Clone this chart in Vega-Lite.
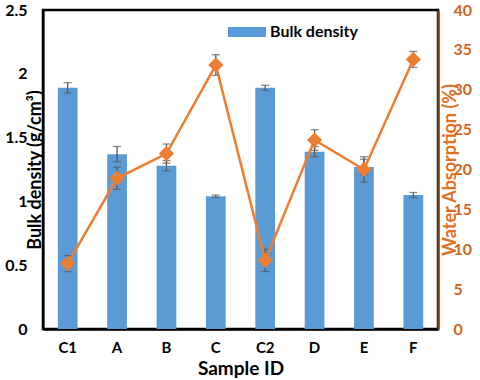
{
  "$schema": "https://vega.github.io/schema/vega-lite/v6.json",
  "width": 395,
  "height": 319,
  "autosize": {"type": "none"},
  "padding": {"left": 43, "top": 10, "right": 42, "bottom": 51},
  "background": "white",
  "config": {
    "font": "Lato",
    "view": {"stroke": "black", "strokeWidth": 2.5},
    "axis": {"grid": false, "ticks": false, "labelFont": "Lato", "titleFont": "Lato", "labelFontWeight": "bold", "titleFontWeight": "bold"}
  },
  "data": {
    "values": [
      {"id": "C1", "bd": 1.89, "bdErr": 0.04, "wa": 8.2, "waErr": 1.0},
      {"id": "A", "bd": 1.37, "bdErr": 0.06, "wa": 18.9, "waErr": 1.4},
      {"id": "B", "bd": 1.28, "bdErr": 0.04, "wa": 22.0, "waErr": 1.2},
      {"id": "C", "bd": 1.04, "bdErr": 0.01, "wa": 33.1, "waErr": 1.3},
      {"id": "C2", "bd": 1.89, "bdErr": 0.02, "wa": 8.6, "waErr": 1.4},
      {"id": "D", "bd": 1.39, "bdErr": 0.04, "wa": 23.7, "waErr": 1.3},
      {"id": "E", "bd": 1.27, "bdErr": 0.06, "wa": 20.0, "waErr": 1.6},
      {"id": "F", "bd": 1.05, "bdErr": 0.02, "wa": 33.8, "waErr": 1.0}
    ]
  },
  "encoding": {
    "x": {
      "field": "id", "type": "nominal", "sort": null,
      "scale": {"paddingInner": 0.6, "paddingOuter": 0.3},
      "axis": {"labelAngle": 0, "labelFontSize": 15, "labelColor": "black", "labelPadding": 11, "title": "Sample ID", "titleFontSize": 19, "titleColor": "black", "titlePadding": 4, "domainColor": "black", "domainWidth": 2.5}
    }
  },
  "layer": [
    {
      "encoding": {
        "y": {
          "field": "bd", "type": "quantitative",
          "scale": {"domain": [0, 2.5]},
          "axis": {"values": [0, 0.5, 1, 1.5, 2, 2.5], "format": ".1~f", "labelFontSize": 16, "labelColor": "black", "labelPadding": 16, "title": "Bulk density (g/cm³)", "titleFontSize": 18, "titleColor": "black", "titlePadding": -40, "domainColor": "black", "domainWidth": 2}
        }
      },
      "layer": [
        {
          "mark": {"type": "bar", "color": "#5B9BD5"},
          "encoding": {
            "color": {
              "datum": "Bulk density",
              "scale": {"range": ["#5B9BD5"]},
              "legend": {"title": null, "orient": "none", "legendX": 185, "legendY": 3, "symbolType": "M-1,-0.26H1V0.26H-1Z", "symbolSize": 1444, "symbolStrokeWidth": 0, "labelFontSize": 16, "labelFontWeight": "bold", "labelColor": "black", "labelFont": "Lato", "labelOffset": 4}
            }
          }
        },
        {
          "mark": {"type": "errorbar", "ticks": {"size": 8, "color": "#595959"}, "color": "#595959", "thickness": 1.3},
          "encoding": {"yError": {"field": "bdErr"}}
        }
      ]
    },
    {
      "encoding": {
        "y": {
          "field": "wa", "type": "quantitative",
          "scale": {"domain": [0, 40]},
          "axis": {"orient": "right", "values": [0, 5, 10, 15, 20, 25, 30, 35, 40], "labelFontSize": 16, "labelColor": "#D0651C", "labelPadding": 15, "title": "Water Absorption (%)", "titleFontSize": 18, "titleColor": "#E0701F", "titleAngle": 270, "titlePadding": -12, "domainColor": "#7F3F10", "domainWidth": 2.5}
        }
      },
      "layer": [
        {
          "mark": {"type": "errorbar", "ticks": {"size": 8, "color": "#595959"}, "color": "#595959", "thickness": 1.3},
          "encoding": {"yError": {"field": "waErr"}}
        },
        {
          "mark": {"type": "line", "color": "#ED7D31", "strokeWidth": 2.5}
        },
        {
          "mark": {"type": "point", "shape": "diamond", "filled": true, "color": "#ED7D31", "size": 230, "opacity": 1}
        }
      ]
    }
  ],
  "resolve": {"scale": {"y": "independent"}}
}
